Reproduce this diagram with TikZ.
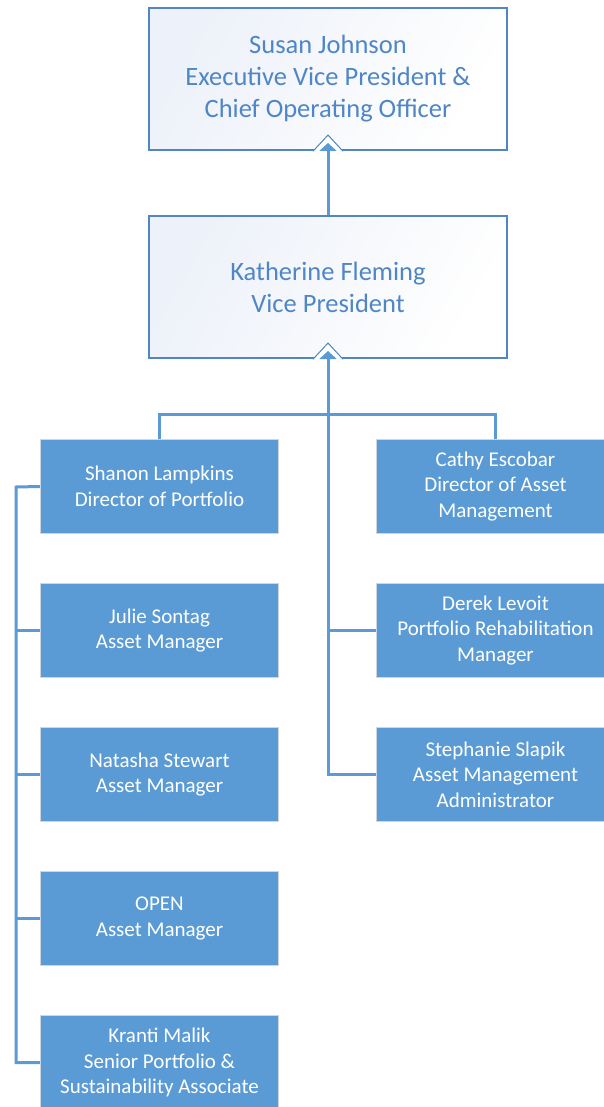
\documentclass[tikz,border=0pt]{standalone}
\usepackage{fontspec}
\setmainfont{Carlito}
\usetikzlibrary{arrows.meta}
\definecolor{bl}{HTML}{5B9BD5}
\definecolor{bd}{HTML}{4F86C6}
\definecolor{lb}{HTML}{CBD6E2}
\definecolor{tint}{HTML}{EDF1F9}
\tikzset{
  topbox/.style={draw=bd, line width=2pt, minimum width=358pt, minimum height=142pt,
    inner sep=0pt, align=center, text=bd, left color=tint, right color=white, shading angle=60,
    font=\fontsize{26.5}{32}\selectfont},
  staff/.style={draw=lb, line width=1.2pt, fill=bl, minimum width=238pt, minimum height=94pt,
    inner sep=0pt, align=center, text=white, font=\fontsize{21}{25.5}\selectfont},
  conn/.style={draw=bl, line width=3pt},
  arr/.style={conn, -{Triangle[width=17pt,length=8pt]}, shorten >=0pt},
  headout/.style={draw=bd, line width=1pt, fill=white, line join=miter}
}
\begin{document}
\begin{tikzpicture}[x=1pt,y=-1pt]
\useasboundingbox (0,0) rectangle (603,1107);
\node[topbox] (susan) at (328,79) {Susan Johnson\\Executive Vice President \&\\Chief Operating Officer};
\node[topbox] (kath) at (328,287) {Katherine Fleming\\Vice President};
\node[staff] (shanon) at (159.5,486.5) {Shanon Lampkins\\Director of Portfolio};
\node[staff] (julie) at (159.5,630.5) {Julie Sontag\\Asset Manager};
\node[staff] (natasha) at (159.5,774.5) {Natasha Stewart\\Asset Manager};
\node[staff] (open) at (159.5,918.5) {OPEN\\Asset Manager};
\node[staff] (kranti) at (159.5,1062.5) {Kranti Malik\\Senior Portfolio \&\\Sustainability Associate};
\node[staff] (cathy) at (495.5,486.5) {Cathy Escobar\\Director of Asset\\Management};
\node[staff] (derek) at (495.5,630.5) {Derek Levoit\\Portfolio Rehabilitation\\Manager};
\node[staff] (steph) at (495.5,774.5) {Stephanie Slapik\\Asset Management\\Administrator};
\coordinate (bar) at (328,414);
\coordinate (spine) at (16,487);
% arrow head outlines
\foreach \n in {susan,kath}{
  \fill[white] ([xshift=-16pt,yshift=-1.5pt]\n.south) -- ([xshift=-15pt]\n.south) -- ([yshift=16pt]\n.south) -- ([xshift=15pt]\n.south) -- ([xshift=16pt,yshift=-1.5pt]\n.south) -- cycle;
  \draw[draw=bd, line width=1pt] ([xshift=-15pt,yshift=-0.3pt]\n.south) -- ([yshift=16pt]\n.south) -- ([xshift=15pt,yshift=-0.3pt]\n.south);
}
% connectors
\draw[arr] (kath.north) -- ([yshift=8pt]susan.south);
\draw[conn] (shanon.north) |- (bar) -| (cathy.north);
\draw[arr] (steph.west) -| (bar) -- ([yshift=8pt]kath.south);
\draw[conn] (derek.west) -- (derek.west -| bar);
\draw[conn] (shanon.west) -- (spine) |- (kranti.west);
\foreach \n in {julie,natasha,open}{
  \draw[conn] (\n.west) -- (\n.west -| spine);
}
\end{tikzpicture}
\end{document}
